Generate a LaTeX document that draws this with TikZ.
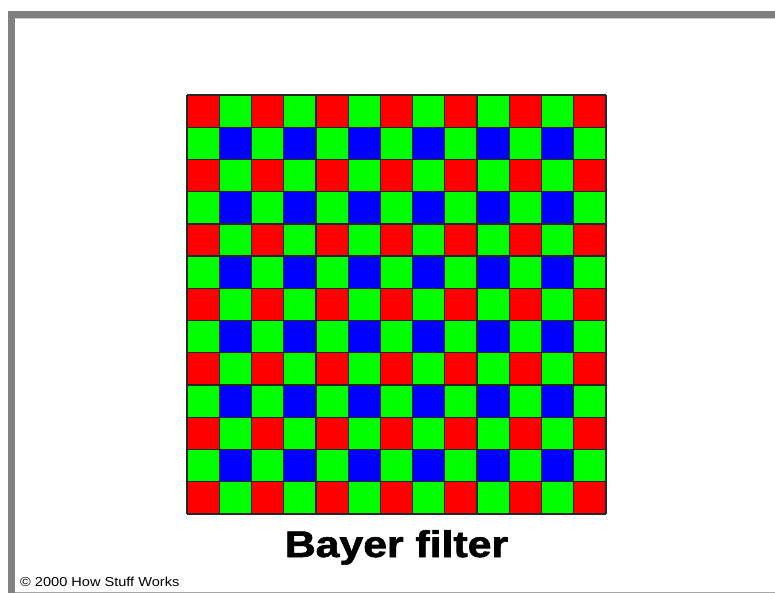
\documentclass[tikz,border=0pt]{standalone}
\usepackage{fontspec}
\setmainfont{Liberation Sans}
\newfontfamily\titlefont[FakeBold=1.6]{Liberation Sans Bold}
\usetikzlibrary{positioning}
\definecolor{bayerred}{HTML}{FF0000}
\definecolor{bayergreen}{HTML}{00FF00}
\definecolor{bayerblue}{HTML}{0000FF}
\definecolor{framegray}{HTML}{808080}

\begin{document}
\begin{tikzpicture}[x=1pt, y=-1pt]
    \useasboundingbox (0,0) rectangle (775,593);
    \fill[white] (0,0) rectangle (775,593);
    % frame
    \fill[framegray] (8,11) rectangle (775,18);
    \fill[framegray] (8,11) rectangle (15,593);
    \draw[framegray!40, line width=0.8pt] (15,18.6) -- (775,18.6);
    \draw[framegray!70, line width=1pt] (15,592.3) -- (775,592.3);
    % mosaic, 13 x 13 cells
    \begin{scope}[shift={(187,95)}, x=32.23pt, y=-32.23pt]
      \coordinate (mosaic) at (6.5,13);
      \fill[bayergreen] (0,0) rectangle (13,13);
      \foreach \r in {0,2,...,12}
        \foreach \c in {0,2,...,12}
          \fill[bayerred] (\c,\r) rectangle ++(1,1);
      \foreach \r in {1,3,...,11}
        \foreach \c in {1,3,...,11}
          \fill[bayerblue] (\c,\r) rectangle ++(1,1);
      \foreach \i in {0,...,13} {
        \draw[black!85, line width=1.3pt] (\i,0) -- (\i,13);
        \draw[black!85, line width=1.3pt] (0,\i) -- (13,\i);
      }
    \end{scope}
    \node[font=\titlefont\fontsize{37}{40}\selectfont, xscale=1.155,
          inner sep=0pt, anchor=base] (title) at (396.5,557) {Bayer filter};
    \node[font=\fontsize{13}{15}\selectfont, xscale=1.12,
          inner sep=0pt, anchor=base west] (credit) at (20,586.5)
          {\textcopyright{} 2000 How Stuff Works};
  \end{tikzpicture}
\end{document}
